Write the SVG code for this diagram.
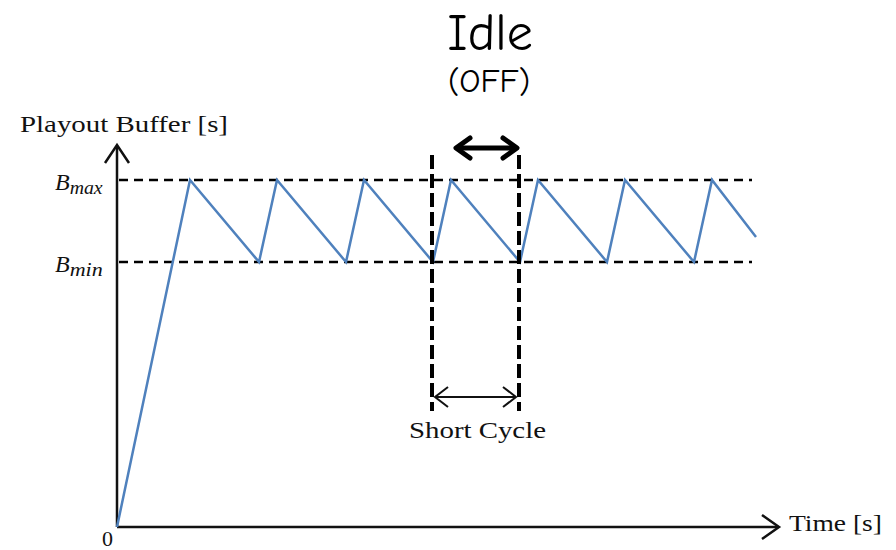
<svg xmlns="http://www.w3.org/2000/svg" width="896" height="550" viewBox="0 0 896 550">
<style>
.ser{font-family:"Liberation Serif","DejaVu Serif",serif;fill:#111}
.it{font-style:italic}
.hand{font-family:"Comic Neue","DejaVu Sans","Liberation Sans",sans-serif;fill:#000}
.dash{stroke:#000;stroke-width:2.5;stroke-dasharray:9,6;fill:none}
.vdash{stroke:#000;stroke-width:4;stroke-dasharray:14,5;fill:none}
.axis{stroke:#111;stroke-width:2.5;fill:none}
</style>
<rect width="896" height="550" fill="#fff"/>
<g id="axes">
<line class="axis" x1="117" y1="527" x2="117" y2="147"/>
<polyline class="axis" points="105,163 117,145 129,163"/>
<line class="axis" x1="117" y1="527" x2="778" y2="527"/>
<polyline class="axis" points="762,515 779,527 762,539"/>
</g>
<g id="levels">
<line class="dash" x1="119" y1="180" x2="752" y2="180"/>
<line class="dash" x1="119" y1="262" x2="752" y2="262"/>
</g>
<g id="buffer">
<polyline fill="none" stroke="#4f81bd" stroke-width="2.5" stroke-linejoin="miter" points="117,527 190,180 259,262 277,180 346,262 364,180 433,262 451,180 520,262 538,180 607,262 625,180 694,262 712,180 756,237"/>
</g>
<g id="cycle-markers">
<line class="vdash" x1="432" y1="155" x2="432" y2="411"/>
<line class="vdash" x1="519" y1="155" x2="519" y2="411"/>
</g>
<g id="connectors">
<line x1="435" y1="397" x2="516" y2="397" stroke="#111" stroke-width="2"/>
<polyline points="448,387 435,397 448,407" fill="none" stroke="#111" stroke-width="2"/>
<polyline points="503,387 516,397 503,407" fill="none" stroke="#111" stroke-width="2"/>
<line x1="458" y1="148" x2="514" y2="148" stroke="#000" stroke-width="5"/>
<polyline points="470,138 456,148 470,158" fill="none" stroke="#000" stroke-width="5" stroke-linecap="round" stroke-linejoin="round"/>
<polyline points="503,138 517,148 503,158" fill="none" stroke="#000" stroke-width="5" stroke-linecap="round" stroke-linejoin="round"/>
</g>
<g id="labels">
<text class="ser" x="20" y="132" font-size="24" textLength="208" lengthAdjust="spacingAndGlyphs">Playout Buffer [s]</text>
<text class="ser it" x="55" y="190" font-size="24">B<tspan font-size="18" dy="4" textLength="33" lengthAdjust="spacingAndGlyphs">max</tspan></text>
<text class="ser it" x="55" y="272" font-size="24">B<tspan font-size="18" dy="4" textLength="33" lengthAdjust="spacingAndGlyphs">min</tspan></text>
<text class="ser" x="102" y="546" font-size="22">0</text>
<text class="ser" x="789" y="531" font-size="24" textLength="93" lengthAdjust="spacingAndGlyphs">Time [s]</text>
<text class="ser" x="409" y="438" font-size="24" textLength="137" lengthAdjust="spacingAndGlyphs">Short Cycle</text>
<text class="hand" x="490" y="50" font-size="52" text-anchor="middle">Idle</text>
<text class="hand" x="489" y="92" font-size="33" text-anchor="middle">(OFF)</text>
</g>
</svg>
